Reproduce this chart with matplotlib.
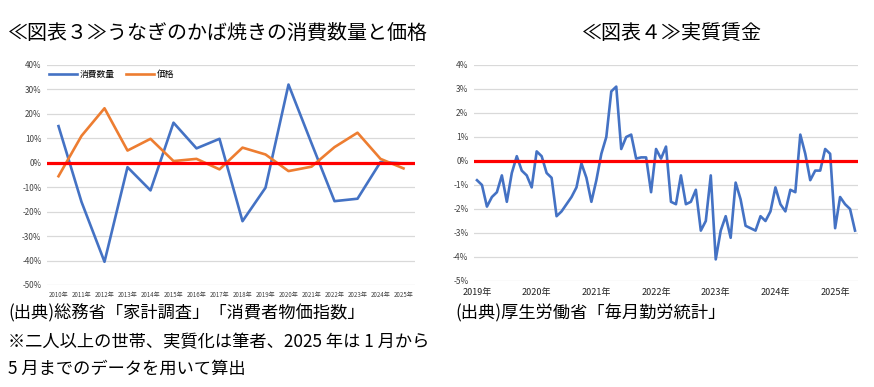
import matplotlib
matplotlib.use("Agg")
from matplotlib import pyplot as plt
import numpy as np

plt.rcParams['font.family'] = ['Noto Sans CJK JP', 'DejaVu Sans']

# 図表3: うなぎのかば焼き（前年比, %）
years = ['2010年', '2011年', '2012年', '2013年', '2014年', '2015年', '2016年', '2017年',
         '2018年', '2019年', '2020年', '2021年', '2022年', '2023年', '2024年', '2025年']
quantity = [15, -16, -40.5, -1.8, -11.3, 16.4, 5.9, 9.8,
            -23.9, -10.2, 32, 8, -15.7, -14.7, 0.3, -0.3]
price = [-5.5, 11, 22.3, 5, 9.8, 0.7, 1.6, -2.7,
         6.2, 3.4, -3.4, -1.6, 6.4, 12.3, 1.6, -2.3]

# 図表4: 実質賃金（前年同月比, %）2019年1月〜2025年5月
wage = [-0.8, -1.0, -1.9, -1.5, -1.3, -0.6, -1.7, -0.5, 0.2, -0.4, -0.6, -1.1,
        0.4, 0.2, -0.5, -0.7, -2.3, -2.1, -1.8, -1.5, -1.1, -0.1, -0.7, -1.7,
        -0.8, 0.3, 1.0, 2.9, 3.1, 0.5, 1.0, 1.1, 0.1, 0.15, 0.15, -1.3,
        0.5, 0.1, 0.6, -1.7, -1.8, -0.6, -1.8, -1.7, -1.2, -2.9, -2.5, -0.6,
        -4.1, -2.9, -2.3, -3.2, -0.9, -1.6, -2.7, -2.8, -2.9, -2.3, -2.5, -2.1,
        -1.1, -1.8, -2.1, -1.2, -1.3, 1.1, 0.3, -0.8, -0.4, -0.4, 0.5, 0.3,
        -2.8, -1.5, -1.8, -2.0, -2.9]
wage_years = ['2019年', '2020年', '2021年', '2022年', '2023年', '2024年', '2025年']

W, H = 874, 387
fig = plt.figure(figsize=(W / 100, H / 100), dpi=100)

blue = '#4472C4'
orange = '#ED7D31'
grid_c = '#D9D9D9'


def px(l, t, r, b):
    return [l / W, 1 - b / H, (r - l) / W, (b - t) / H]


# ---- left chart
ax1 = fig.add_axes(px(47, 65, 415, 285))
x = np.arange(len(years))
ax1.plot(x, quantity, color=blue, lw=1.9, label='消費数量', zorder=3)
ax1.plot(x, price, color=orange, lw=1.9, label='価格', zorder=3)
ax1.axhline(0, color='#FF0000', lw=2.3, zorder=4)
ax1.set_xlim(-0.5, len(years) - 0.5)
ax1.set_ylim(-50, 40)
ax1.set_yticks(np.arange(-50, 41, 10))
ax1.set_yticklabels([f'{v}%' for v in range(-50, 41, 10)], fontsize=5.8, color='#404040')
ax1.set_xticks(x)
ax1.set_xticklabels(years, fontsize=4.4, color='#404040')
ax1.tick_params(length=0, pad=4)
ax1.grid(axis='y', color=grid_c, lw=0.9)
for s in ax1.spines.values():
    s.set_visible(False)
ax1.legend(loc='upper left', bbox_to_anchor=(-0.01, 1.0), ncol=2, frameon=False,
           fontsize=6.3, handlelength=3.2, columnspacing=1.2, handletextpad=0.4,
           borderaxespad=0.2)

# ---- right chart
ax2 = fig.add_axes(px(474, 65, 858, 281))
m = np.arange(len(wage))
ax2.plot(m, wage, color=blue, lw=1.9, zorder=3)
ax2.axhline(0, color='#FF0000', lw=2.3, zorder=4)
ax2.set_xlim(-0.6, len(wage) - 0.4)
ax2.set_ylim(-5, 4)
ax2.set_yticks(np.arange(-5, 5, 1))
ax2.set_yticklabels([f'{v}%' for v in range(-5, 5)], fontsize=6, color='#404040')
ax2.set_xticks(np.arange(0, len(wage), 12))
ax2.set_xticklabels(wage_years, fontsize=6.5, color='#202020')
ax2.tick_params(length=0, pad=4)
ax2.tick_params(axis='x', pad=5)
ax2.grid(axis='y', color=grid_c, lw=0.9)
for s in ax2.spines.values():
    s.set_visible(False)

# ---- titles and notes
fig.text(8 / W, 1 - 33 / H, '≪図表３≫うなぎのかば焼きの消費数量と価格', fontsize=14.4,
         va='center', ha='left')
fig.text(672 / W, 1 - 33 / H, '≪図表４≫実質賃金', fontsize=14.4, va='center', ha='center')

note_kw = dict(fontsize=12.4, va='center', ha='left')
fig.text(8 / W, 1 - 313 / H, '(出典)総務省「家計調査」「消費者物価指数」', **note_kw)
fig.text(8 / W, 1 - 342 / H, '※二人以上の世帯、実質化は筆者、2025 年は 1 月から', **note_kw)
fig.text(8 / W, 1 - 369 / H, '5 月までのデータを用いて算出', **note_kw)
fig.text(455 / W, 1 - 313 / H, '(出典)厚生労働省「毎月勤労統計」', **note_kw)

fig.savefig('out.png', dpi=100)
